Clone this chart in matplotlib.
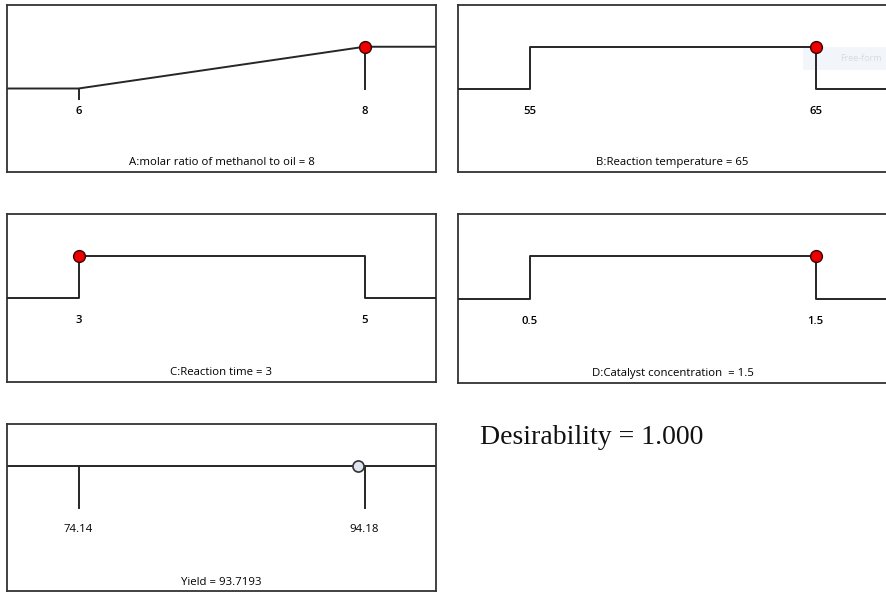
import matplotlib.pyplot as plt
from matplotlib.patches import Rectangle

# ─── FACTOR SETTINGS ──────────────────────────────────────────────────────────
factor_names = ["A:molar ratio of methanol to oil", "B:Reaction temperature",
                "C:Reaction time", "D:Catalyst concentration "]
factor_low   = [6, 55, 3, 0.5]
factor_high  = [8, 65, 5, 1.5]
factor_label = [["6", "8"], ["55", "65"], ["3", "5"], ["0.5", "1.5"]]
factor_value = [8, 65, 3, 1.5]
factor_goal  = ["maximize", "range", "range", "range"]

yield_low   = 74.14
yield_high  = 94.18
yield_value = 93.7193
desirability = 1.000
# ──────────────────────────────────────────────────────────────────────────────

LINE = "#262626"
FONT = "Open Sans"
FS = 8.2
W, H = 886, 593

fig = plt.figure(figsize=(W / 100, H / 100), dpi=100)
fig.patch.set_facecolor("white")

# panel boxes in pixels: left, top, right, bottom
boxes = [(7, 5, 436, 172), (458, 5, 887, 172),
         (7, 214, 436, 382), (458, 214, 887, 383),
         (7, 424, 436, 591)]


def make_ax(box):
    l, t, r, b = box
    ax = fig.add_axes([l / W, 1 - b / H, (r - l) / W, (b - t) / H])
    ax.set_xticks([]); ax.set_yticks([])
    for s in ax.spines.values():
        s.set_color("#333333"); s.set_linewidth(1.3)
    ax.set_ylim(0, 1)
    return ax


def pad_lim(lo, hi):
    span = (hi - lo) / 4
    return lo - span, hi + span


for i in range(4):
    ax = make_ax(boxes[i])
    lo, hi = factor_low[i], factor_high[i]
    x0, x1 = pad_lim(lo, hi)
    ax.set_xlim(x0, x1)
    if i == 1:
        # faint tooltip left over on the screen
        ax.add_patch(Rectangle((0.805, 0.61), 0.2, 0.14, transform=ax.transAxes,
                               fc="#f2f6fb", ec="none", zorder=1))
        ax.text(0.94, 0.68, "Free-form", transform=ax.transAxes, ha="center",
                va="center", fontsize=6.5, family=FONT, color="#d6dbe3",
                zorder=2)
    if factor_goal[i] == "maximize":
        ax.plot([x0, lo, hi, x1], [0.5, 0.5, 0.75, 0.75], color=LINE, lw=1.4)
        ax.plot([lo, lo], [0.5, 0.44], color=LINE, lw=1.4)
        ax.plot([hi, hi], [0.75, 0.5], color=LINE, lw=1.4)
    else:
        ax.plot([x0, lo, lo, hi, hi, x1], [0.5, 0.5, 0.75, 0.75, 0.5, 0.5],
                color=LINE, lw=1.4, zorder=3)
    ax.plot(factor_value[i], 0.75, "o", ms=8.5, mfc="#ee0000", mec="#3a0000",
            mew=1.0, zorder=5)
    for xv, txt in zip([lo, hi], factor_label[i]):
        ax.text(xv, 0.365, txt, ha="center", va="center", fontsize=FS,
                family=FONT, fontweight="semibold")
    ax.text(0.5, 0.055, f"{factor_names[i]} = {factor_value[i]:g}",
            transform=ax.transAxes, ha="center", va="center", fontsize=FS,
            family=FONT)

# response panel
ax = make_ax(boxes[4])
x0, x1 = pad_lim(yield_low, yield_high)
ax.set_xlim(x0, x1)
ax.plot([x0, x1], [0.75, 0.75], color=LINE, lw=1.4)
for xv in [yield_low, yield_high]:
    ax.plot([xv, xv], [0.75, 0.5], color=LINE, lw=1.4)
    ax.text(xv, 0.37, f"{xv:.2f}", ha="center", va="center", fontsize=FS,
            family=FONT)
ax.plot(yield_value, 0.75, "o", ms=8, mfc="#dfe5f0", mec="#333333",
        mew=1.2, zorder=5)
ax.text(0.5, 0.05, f"Yield = {yield_value:.4f}", transform=ax.transAxes,
        ha="center", va="center", fontsize=FS, family=FONT)

fig.text(480 / W, 1 - 438 / H, f"Desirability = {desirability:.3f}",
         ha="left", va="center", fontsize=20, family="Liberation Serif",
         color="#111111")

fig.savefig("out.png", dpi=100, facecolor="white")
